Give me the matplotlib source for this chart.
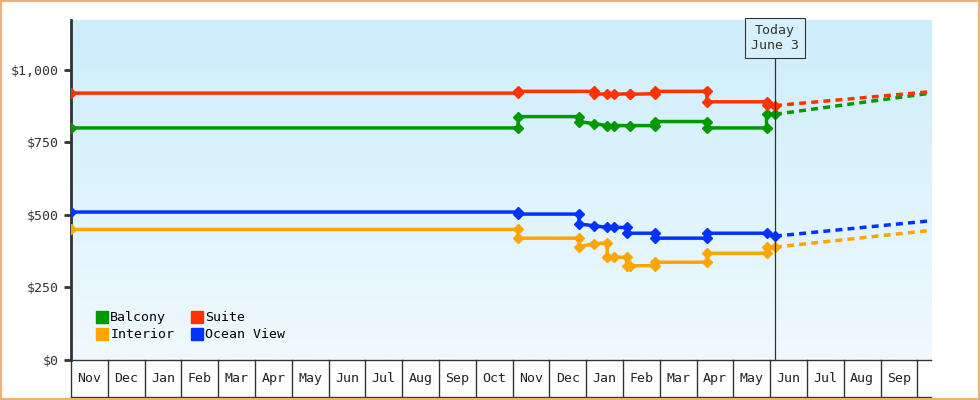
import matplotlib
matplotlib.use("Agg")
import matplotlib.pyplot as plt
import numpy as np
from matplotlib.patches import Rectangle
from matplotlib.transforms import blended_transform_factory

months = ["Nov","Dec","Jan","Feb","Mar","Apr","May","Jun","Jul","Aug","Sep","Oct",
          "Nov","Dec","Jan","Feb","Mar","Apr","May","Jun","Jul","Aug","Sep"]
today = 19.13
x_end = 23.37

suite_x = [0, 12.15, 12.15, 14.2, 14.2, 14.57, 14.75, 15.2, 15.2, 15.87, 15.87, 17.28, 17.28, 18.9, 18.9, 19.13]
suite_y = [920, 920, 926, 926, 918, 916, 916, 918, 916, 918, 926, 926, 890, 890, 880, 877]
balcony_x = [0, 12.15, 12.15, 13.8, 13.8, 14.2, 14.57, 14.75, 15.2, 15.87, 15.87, 17.28, 17.28, 18.9, 18.9, 19.13]
balcony_y = [800, 800, 839, 839, 822, 815, 808, 808, 808, 808, 822, 822, 800, 800, 847, 847]
ocean_x = [0, 12.15, 12.15, 13.8, 13.8, 14.2, 14.57, 14.75, 15.1, 15.1, 15.87, 15.87, 17.28, 17.28, 18.9, 19.13]
ocean_y = [510, 510, 503, 503, 469, 463, 457, 457, 457, 437, 437, 420, 420, 437, 437, 427]
interior_x = [0, 12.15, 12.15, 13.8, 13.8, 14.2, 14.57, 14.57, 14.75, 15.1, 15.1, 15.2, 15.87, 15.87, 17.28, 17.28, 18.9, 18.9, 19.13]
interior_y = [450, 450, 420, 420, 391, 400, 404, 354, 354, 354, 325, 325, 325, 337, 337, 368, 368, 391, 389]
forecast_x = [today, x_end]
suite_f = [877, 925]
balcony_f = [847, 920]
ocean_f = [427, 480]
interior_f = [389, 447]

series = [("Balcony", balcony_x, balcony_y, balcony_f, "#009900"),
          ("Interior", interior_x, interior_y, interior_f, "#ffa500"),
          ("Suite", suite_x, suite_y, suite_f, "#ff3300"),
          ("Ocean View", ocean_x, ocean_y, ocean_f, "#0033ff")]

plt.rcParams['font.family'] = ['DejaVu Sans Mono']
fig = plt.figure(figsize=(9.8, 4), dpi=100)
fig.patch.set_facecolor("white")
fig.add_artist(Rectangle((0.001, 0.002), 0.998, 0.996, transform=fig.transFigure,
                         fill=False, edgecolor="#f0b070", lw=1.5))
ax = fig.add_axes([71/980, 40/400, 860/980, 340/400])
ax.set_xlim(0, x_end)
ax.set_ylim(0, 1172)
grad = np.linspace(0, 1, 256).reshape(-1, 1)
from matplotlib.colors import LinearSegmentedColormap
cm = LinearSegmentedColormap.from_list("g", ["#f0f9fe", "#cdeefb"])
ax.imshow(grad, aspect="auto", cmap=cm, extent=[0, x_end, 0, 1172], origin="lower", zorder=0)

for name, xs, ys, fc, col in series:
    ax.plot(xs, ys, color=col, lw=2.5, marker="D", ms=5, zorder=3)
    ax.plot(forecast_x, fc, color=col, lw=2.5, ls=(0, (2, 1.5)), zorder=3)

ax.axvline(today, color="#333333", lw=0.9, zorder=4)
ax.text(today, 1110, "Today\nJune 3", ha="center", va="center", fontsize=9.5, color="#333333",
        bbox=dict(boxstyle="square,pad=0.45", fc="#d6f1fb", ec="#333333", lw=0.8), zorder=5)

for s in ["top", "right"]:
    ax.spines[s].set_visible(False)
ax.spines["left"].set_linewidth(2)
ax.spines["left"].set_color("#333333")
ax.spines["bottom"].set_linewidth(1)
ax.spines["bottom"].set_color("#333333")
yt = [0, 250, 500, 750, 1000]
ax.set_yticks(yt)
ax.set_yticklabels(["$0", "$250", "$500", "$750", "$1,000"], fontsize=9.5, color="#333333")
ax.tick_params(axis="y", length=5, width=2, color="#333333")
ax.set_xticks([])

tr = blended_transform_factory(ax.transData, ax.transAxes)
for i, m in enumerate(months):
    ax.text(i + 0.5, -0.055, m, transform=tr, ha="center", va="center", fontsize=9.5, color="#222222")
    ax.plot([i, i], [0, -0.11], transform=tr, color="#333333", lw=1, clip_on=False)
ax.plot([23, 23], [0, -0.11], transform=tr, color="#333333", lw=1, clip_on=False)
ax.plot([0, x_end], [-0.11, -0.11], transform=tr, color="#333333", lw=1, clip_on=False)

handles = [plt.Line2D([], [], marker="s", ls="", color=c, ms=9) for _, _, _, _, c in series]
ax.legend(handles, [s[0] for s in series], ncol=2, loc="lower left", bbox_to_anchor=(0.015, 0.02),
          frameon=False, fontsize=9.5, handletextpad=0.1, columnspacing=1.2, labelspacing=0.3,
          handlelength=1)
fig.savefig("out.png", dpi=100)
